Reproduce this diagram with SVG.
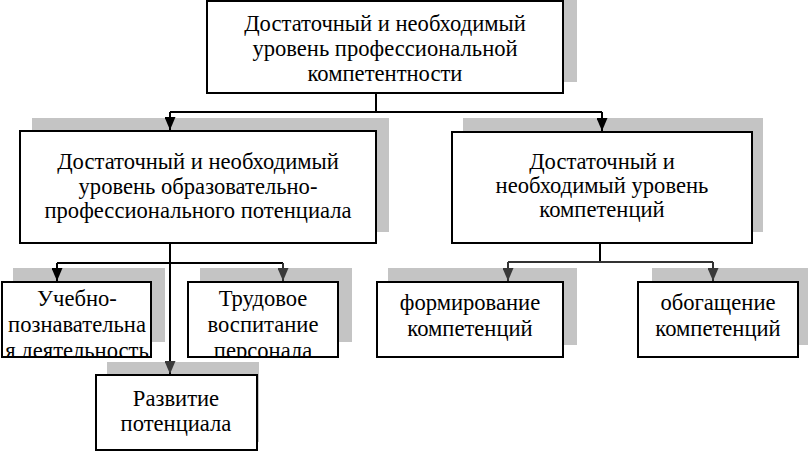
<svg xmlns="http://www.w3.org/2000/svg" width="808" height="451" viewBox="0 0 808 451">
<defs>
<style>
.sh{fill:#c4c4c4}
.bx{fill:#fff;stroke:#000;stroke-width:2}
.t{font-family:"Liberation Serif","Times New Roman",serif;font-size:22.6px;fill:#000;text-anchor:middle}
.ln{fill:none;stroke:#000;stroke-width:2}
.lg{fill:none;stroke:#333;stroke-width:2}
</style>
<marker id="ah" markerWidth="11" markerHeight="13" refX="5.5" refY="13" markerUnits="userSpaceOnUse" viewBox="0 0 11 13">
<path d="M0,0 L11,0 L5.5,13 Z" fill="#000"/>
</marker>
<marker id="ahg" markerWidth="11" markerHeight="13" refX="5.5" refY="13" markerUnits="userSpaceOnUse" viewBox="0 0 11 13">
<path d="M0,0 L11,0 L5.5,13 Z" fill="#3a3a3a"/>
</marker>
<clipPath id="c1"><rect x="2" y="282" width="149" height="75"/></clipPath>
<clipPath id="c2"><rect x="188" y="282" width="150" height="75"/></clipPath>
</defs>
<rect width="808" height="451" fill="#fff"/>

<g id="n-top">
<rect class="sh" x="221" y="-12" width="356" height="94"/>
<rect class="bx" x="207" y="1" width="356" height="92"/>
<text class="t" x="385" y="31">Достаточный и необходимый</text>
<text class="t" x="385" y="56">уровень профессиональной</text>
<text class="t" x="385" y="81">компетентности</text>
</g>

<g id="n-edu">
<rect class="sh" x="32" y="118" width="357" height="114"/>
<rect class="bx" x="20" y="131" width="356" height="112"/>
<text class="t" x="198" y="169">Достаточный и необходимый</text>
<text class="t" x="198" y="194">уровень образовательно-</text>
<text class="t" x="198" y="218">профессионального потенциала</text>
</g>

<g id="n-comp">
<rect class="sh" x="463" y="118" width="300" height="114"/>
<rect class="bx" x="452" y="132" width="300" height="111"/>
<text class="t" x="602" y="169">Достаточный и</text>
<text class="t" x="602" y="193">необходимый уровень</text>
<text class="t" x="602" y="217">компетенций</text>
</g>

<g id="n-ucheb">
<rect class="sh" x="13" y="268" width="152" height="74"/>
<rect class="bx" x="2" y="282" width="149" height="75"/>
<g clip-path="url(#c1)">
<text class="t" x="77" y="306">Учебно-</text>
<text class="t" x="77" y="332">познавательна</text>
<text class="t" x="77" y="358">я деятельность</text>
</g>
</g>

<g id="n-trud">
<rect class="sh" x="200" y="268" width="152" height="74"/>
<rect class="bx" x="188" y="282" width="150" height="75"/>
<g clip-path="url(#c2)">
<text class="t" x="263" y="306">Трудовое</text>
<text class="t" x="263" y="332">воспитание</text>
<text class="t" x="263" y="358">персонала</text>
</g>
</g>

<g id="n-razv">
<rect class="sh" x="107" y="362" width="152" height="80"/>
<rect class="bx" x="96" y="375" width="161" height="75"/>
<text class="t" x="176" y="406">Развитие</text>
<text class="t" x="176" y="431">потенциала</text>
</g>

<g id="n-form">
<rect class="sh" x="388" y="268" width="189" height="77"/>
<rect class="bx" x="377" y="282" width="186" height="75"/>
<text class="t" x="470" y="310">формирование</text>
<text class="t" x="470" y="336">компетенций</text>
</g>

<g id="n-obog">
<rect class="sh" x="652" y="268" width="160" height="77"/>
<rect class="bx" x="638" y="282" width="160" height="75"/>
<text class="t" x="718" y="310">обогащение</text>
<text class="t" x="718" y="336">компетенций</text>
</g>

<g id="connectors">
<path class="ln" d="M376,93 V112"/>
<path class="ln" d="M170,112 H602"/>
<path class="ln" d="M170,112 V130" marker-end="url(#ah)"/>
<path class="ln" d="M602,112 V131" marker-end="url(#ah)"/>
<path class="ln" d="M170,243 V374" marker-end="url(#ahg)"/>
<path class="ln" d="M57,263 H283"/>
<path class="ln" d="M57,263 V281" marker-end="url(#ah)"/>
<path class="lg" d="M283,263 V281" marker-end="url(#ahg)"/>
<path class="ln" d="M600,243 V262"/>
<path class="lg" d="M508,262 H713"/>
<path class="lg" d="M508,262 V281" marker-end="url(#ahg)"/>
<path class="lg" d="M713,262 V281" marker-end="url(#ahg)"/>
</g>
</svg>
